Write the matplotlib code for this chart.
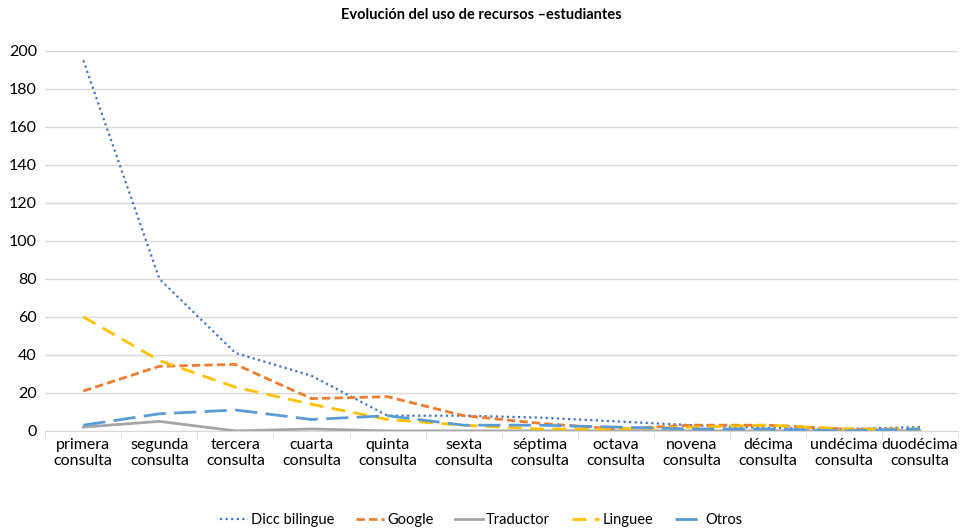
import matplotlib.pyplot as plt
import numpy as np

plt.rcParams['font.family'] = ['Lato', 'DejaVu Sans']

categorias = ["primera\nconsulta", "segunda\nconsulta", "tercera\nconsulta", "cuarta\nconsulta",
              "quinta\nconsulta", "sexta\nconsulta", "séptima\nconsulta", "octava\nconsulta",
              "novena\nconsulta", "décima\nconsulta", "undécima\nconsulta", "duodécima\nconsulta"]

dicc_bilingue = [195, 80, 41, 29, 8, 8, 7, 5, 3, 1.5, 1, 2]
google = [21, 34, 35, 17, 18, 8, 4, 1, 3, 3, 1, 0]
traductor = [2, 5, 0, 1, 0, 0, 0, 0, 0, 0, 0, 0]
linguee = [60, 37, 23, 14, 6, 3, 1, 1, 2, 3, 1, 1]
otros = [3, 9, 11, 6, 8, 3, 3, 2, 1, 1, 0, 1]

x = np.arange(len(categorias))

fig = plt.figure(figsize=(9.63, 5.30), dpi=100)
ax = fig.add_axes([0.047, 0.187, 0.948, 0.717])

ax.plot(x, dicc_bilingue, color="#4472C4", lw=1.6, linestyle=(0, (1, 1.5)), label="Dicc bilingue")
ax.plot(x, google, color="#ED7D31", lw=2, linestyle=(0, (3, 1.5)), label="Google")
ax.plot(x, traductor, color="#A5A5A5", lw=2, linestyle="-", label="Traductor")
ax.plot(x, linguee, color="#FFC000", lw=2, linestyle=(0, (5, 3)), label="Linguee")
ax.plot(x, otros, color="#5B9BD5", lw=2, linestyle=(0, (8, 3)), label="Otros")

ax.set_xlim(-0.5, len(categorias) - 0.5)
ax.set_ylim(0, 200)
ax.set_yticks(range(0, 201, 20))
ax.set_xticks(x)
ax.set_xticklabels(categorias)
ax.set_xticks(np.arange(-0.5, len(categorias), 1), minor=True)
ax.tick_params(axis="x", which="major", length=0, labelsize=11.5, pad=5)
ax.tick_params(axis="x", which="minor", length=5, color="#D9D9D9")
ax.tick_params(axis="y", length=0, labelsize=11.5, pad=6)

ax.grid(axis="y", color="#D9D9D9", lw=1)
ax.set_axisbelow(True)
for s in ["top", "right", "left"]:
    ax.spines[s].set_visible(False)
ax.spines["bottom"].set_color("#D9D9D9")

fig.suptitle("Evolución del uso de recursos –estudiantes", fontsize=10.5, fontweight="bold", y=0.985)

fig.legend(loc="lower center", ncol=5, frameon=False, fontsize=10.5,
           bbox_to_anchor=(0.5, -0.02), handlelength=1.9, handletextpad=0.2, columnspacing=1.5)

fig.savefig("out.png", dpi=100)
